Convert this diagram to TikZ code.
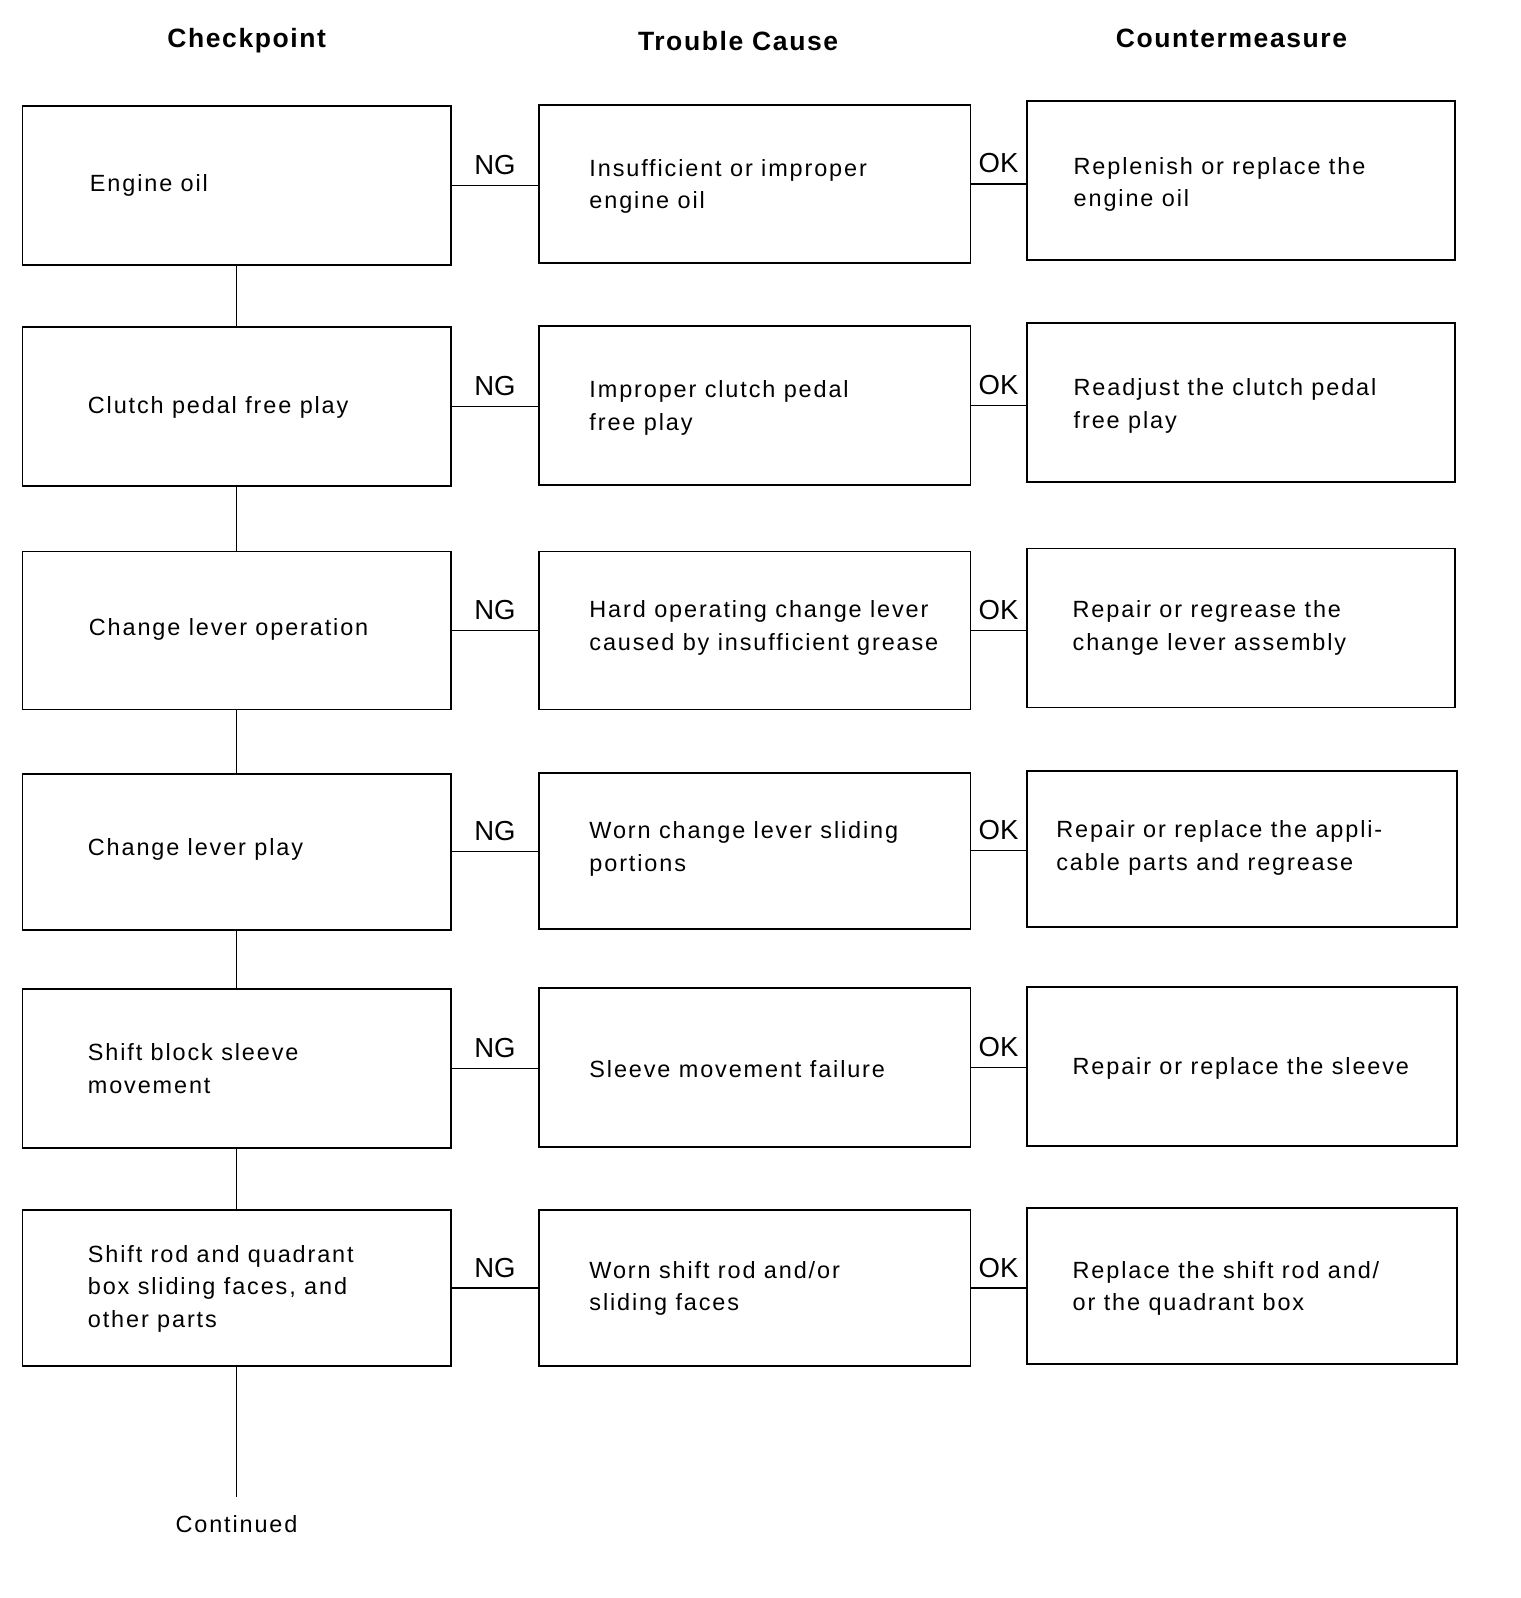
\documentclass[tikz,border=0pt]{standalone}
\usepackage{fontspec}
\setmainfont{Liberation Sans}[LetterSpace=8]
\newfontfamily\hdrfont{Liberation Sans}[LetterSpace=6]
\newfontfamily\lblfont{Liberation Sans}
\begin{document}
\begin{tikzpicture}[x=1pt,y=-1pt,
  box/.style={draw,line width=1.8pt,rectangle,inner sep=0pt},
  txt/.style={anchor=west,inner sep=0pt,align=left,font=\fontsize{23}{32}\selectfont},
  hdr/.style={inner sep=0pt,font=\hdrfont\fontsize{26}{30}\selectfont\bfseries},
  lbl/.style={inner sep=0pt,font=\lblfont\fontsize{27}{30}\selectfont},
  conn/.style={line width=1.2pt}]
\useasboundingbox (0,0) rectangle (1491,1567.5);
% headers
\node[hdr] (h1) at (242,40) {Checkpoint};
\node[hdr] (h2) at (724,40) {Trouble Cause};
\node[hdr] (h3) at (1208,38) {Countermeasure};
% column 1 boxes
\node[box,minimum width=420pt,minimum height=156pt] (b11) at (232,182) {};
\node[box,minimum width=420pt,minimum height=156pt] (b21) at (232,399) {};
\node[box,minimum width=420pt,minimum height=155pt] (b31) at (232,618.5) {};
\node[box,minimum width=420pt,minimum height=153pt] (b41) at (232,835.5) {};
\node[box,minimum width=420pt,minimum height=156pt] (b51) at (232,1048) {};
\node[box,minimum width=420pt,minimum height=153pt] (b61) at (232,1263.5) {};
% column 2 boxes
\node[box,minimum width=423pt,minimum height=155pt] (b12) at (740.5,180.5) {};
\node[box,minimum width=423pt,minimum height=156pt] (b22) at (740.5,398) {};
\node[box,minimum width=423pt,minimum height=155pt] (b32) at (740.5,618.5) {};
\node[box,minimum width=423pt,minimum height=153pt] (b42) at (740.5,834.5) {};
\node[box,minimum width=423pt,minimum height=156pt] (b52) at (740.5,1047) {};
\node[box,minimum width=423pt,minimum height=153pt] (b62) at (740.5,1263.5) {};
% column 3 boxes
\node[box,minimum width=420pt,minimum height=156pt] (b13) at (1217,177) {};
\node[box,minimum width=420pt,minimum height=156pt] (b23) at (1217,395) {};
\node[box,minimum width=420pt,minimum height=156pt] (b33) at (1217,616) {};
\node[box,minimum width=422pt,minimum height=153pt] (b43) at (1218,832.5) {};
\node[box,minimum width=422pt,minimum height=156pt] (b53) at (1218,1046) {};
\node[box,minimum width=422pt,minimum height=153pt] (b63) at (1218,1261.5) {};
% texts column 1
\node[txt] (t11) at (88,182) {Engine oil};
\node[txt] (t21) at (86,400) {Clutch pedal free play};
\node[txt] (t31) at (87,617) {Change lever operation};
\node[txt] (t41) at (86,833) {Change lever play};
\node[txt] (t51) at (86,1048) {Shift block sleeve\\movement};
\node[txt] (t61) at (86,1264) {Shift rod and quadrant\\box sliding faces, and\\other parts};
% texts column 2
\node[txt] (t12) at (578,183) {Insufficient or improper\\engine oil};
\node[txt] (t22) at (578,400) {Improper clutch pedal\\free play};
\node[txt] (t32) at (578,616) {Hard operating change lever\\caused by insufficient grease};
\node[txt] (t42) at (578,833) {Worn change lever sliding\\portions};
\node[txt] (t52) at (578,1049) {Sleeve movement failure};
\node[txt] (t62) at (578,1264) {Worn shift rod and/or\\sliding faces};
% texts column 3
\node[txt] (t13) at (1053,181) {Replenish or replace the\\engine oil};
\node[txt] (t23) at (1053,398) {Readjust the clutch pedal\\free play};
\node[txt] (t33) at (1052,616) {Repair or regrease the\\change lever assembly};
\node[txt] (t43) at (1036,832) {Repair or replace the appli-\\cable parts and regrease};
\node[txt] (t53) at (1052,1048) {Repair or replace the sleeve};
\node[txt] (t63) at (1052,1264) {Replace the shift rod and/\\or the quadrant box};
% vertical connectors
\draw[conn] (b11.south) -- (b21.north);
\draw[conn] (b21.south) -- (b31.north);
\draw[conn] (b31.south) -- (b41.north);
\draw[conn] (b41.south) -- (b51.north);
\draw[conn] (b51.south) -- (b61.north);
\coordinate (cend) at (232,1468);
\draw[conn] (b61.south) -- (cend);
\node[txt,anchor=center] (cont) at (232,1495) {Continued};
% NG connectors
\draw[conn] (b11.east) -- (b11.east -| b12.west) node[midway,above=10pt,lbl] (ng1) {NG};
\draw[conn] (b21.east) -- (b21.east -| b22.west) node[midway,above=10pt,lbl] (ng2) {NG};
\draw[conn] (b31.east) -- (b31.east -| b32.west) node[midway,above=10pt,lbl] (ng3) {NG};
\draw[conn] (b41.east) -- (b41.east -| b42.west) node[midway,above=10pt,lbl] (ng4) {NG};
\draw[conn] (b51.east) -- (b51.east -| b52.west) node[midway,above=10pt,lbl] (ng5) {NG};
\draw[conn] (b61.east) -- (b61.east -| b62.west) node[midway,above=10pt,lbl] (ng6) {NG};
% OK connectors
\draw[conn] (b12.east) -- (b12.east -| b13.west) node[midway,above=10pt,lbl] (ok1) {OK};
\draw[conn] (b22.east) -- (b22.east -| b23.west) node[midway,above=10pt,lbl] (ok2) {OK};
\draw[conn] (b32.east) -- (b32.east -| b33.west) node[midway,above=10pt,lbl] (ok3) {OK};
\draw[conn] (b42.east) -- (b42.east -| b43.west) node[midway,above=10pt,lbl] (ok4) {OK};
\draw[conn] (b52.east) -- (b52.east -| b53.west) node[midway,above=10pt,lbl] (ok5) {OK};
\draw[conn] (b62.east) -- (b62.east -| b63.west) node[midway,above=10pt,lbl] (ok6) {OK};
\end{tikzpicture}
\end{document}
